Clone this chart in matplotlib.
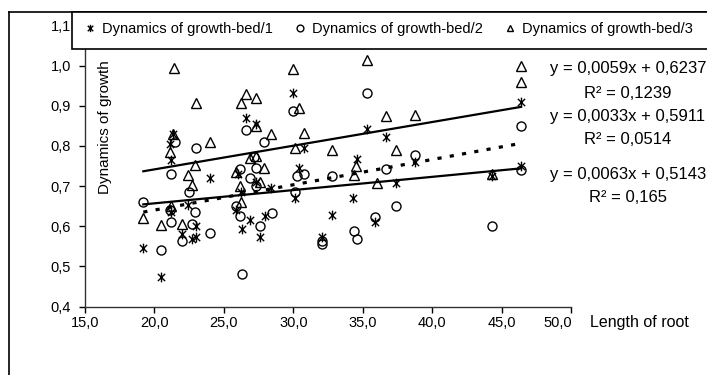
import matplotlib
matplotlib.use("Agg")
import matplotlib.pyplot as plt
import numpy as np
from matplotlib.path import Path
from matplotlib.lines import Line2D
from matplotlib.patches import Rectangle
import matplotlib.transforms as mtransforms

plt.rcParams['font.family'] = ['Liberation Sans', 'DejaVu Sans']

# ---- data ----
bed1_x = [19.2, 20.5, 21.35, 21.1, 21.2, 21.2, 22.4, 23.0, 22.0, 22.7, 23.0, 24.0,
          26.6, 27.3, 26.0, 26.2, 27.35, 28.4, 25.9, 26.9, 26.3, 27.6, 27.95,
          30.0, 30.8, 30.4, 30.1, 32.8, 32.1, 34.6, 34.3, 35.3, 36.7, 35.9, 37.4,
          38.8, 44.3, 46.4, 46.4]
bed1_y = [0.547, 0.474, 0.83, 0.805, 0.765, 0.636, 0.653, 0.60, 0.58, 0.568, 0.574, 0.72,
          0.87, 0.855, 0.73, 0.685, 0.71, 0.695, 0.64, 0.616, 0.593, 0.574, 0.626,
          0.933, 0.795, 0.745, 0.67, 0.628, 0.573, 0.767, 0.671, 0.842, 0.823, 0.611, 0.707,
          0.76, 0.725, 0.91, 0.75]

bed2_x = [19.2, 20.5, 21.5, 21.2, 21.1, 21.2, 22.5, 22.9, 22.7, 22.0, 23.0, 24.0,
          26.6, 27.9, 26.15, 26.9, 27.2, 27.35, 27.35, 25.9, 26.15, 27.6, 28.5, 26.3,
          30.0, 30.3, 30.8, 30.1, 32.8, 32.1, 32.1, 34.35, 34.6, 35.3, 35.9, 36.7,
          37.4, 38.8, 44.3, 46.4, 46.4]
bed2_y = [0.66, 0.541, 0.81, 0.73, 0.64, 0.61, 0.686, 0.635, 0.605, 0.563, 0.795, 0.583,
          0.84, 0.81, 0.742, 0.72, 0.772, 0.745, 0.70, 0.65, 0.626, 0.60, 0.632, 0.48,
          0.888, 0.725, 0.73, 0.686, 0.724, 0.563, 0.556, 0.588, 0.568, 0.932, 0.624, 0.742,
          0.651, 0.778, 0.60, 0.85, 0.74]

bed3_x = [19.2, 20.5, 21.4, 21.35, 21.1, 21.2, 22.4, 22.7, 22.9, 22.0, 23.0, 24.0,
          26.6, 26.2, 27.3, 27.3, 28.4, 25.9, 26.9, 27.3, 27.9, 27.6, 26.15, 26.2,
          30.0, 30.4, 30.8, 30.1, 32.8, 35.3, 36.7, 38.8, 37.4, 34.5, 34.4, 36.0,
          44.3, 46.4, 46.4]
bed3_y = [0.62, 0.603, 0.994, 0.83, 0.786, 0.65, 0.728, 0.703, 0.753, 0.605, 0.907, 0.811,
          0.929, 0.907, 0.92, 0.85, 0.83, 0.735, 0.77, 0.775, 0.746, 0.71, 0.70, 0.66,
          0.991, 0.894, 0.832, 0.795, 0.789, 1.015, 0.875, 0.878, 0.789, 0.75, 0.728, 0.707,
          0.73, 1.0, 0.96]

series_labels = ["Dynamics of growth-bed/1", "Dynamics of growth-bed/2", "Dynamics of growth-bed/3"]

# trend line equations (as printed on the chart) for bed/3, bed/2, bed/1
eq_slopes = [0.0059, 0.0033, 0.0063]
eq_intercepts = [0.6237, 0.5911, 0.5143]
eq_r2 = ["0,1239", "0,0514", "0,165"]

x_ticks = [15, 20, 25, 30, 35, 40, 45, 50]
y_ticks = [0.4, 0.5, 0.6, 0.7, 0.8, 0.9, 1.0, 1.1]

W, H = 707, 375
fig = plt.figure(figsize=(W / 100, H / 100), dpi=100)
ax = fig.add_axes([85 / W, (H - 306.5) / H, (571 - 85) / W, (306.5 - 25.6) / H])

# star marker: vertical bar + X
star = Path([(0, -1), (0, 1), (-0.75, -0.75), (0.75, 0.75), (-0.75, 0.75), (0.75, -0.75)],
            [Path.MOVETO, Path.LINETO, Path.MOVETO, Path.LINETO, Path.MOVETO, Path.LINETO])

h1, = ax.plot(bed1_x, bed1_y, linestyle='none', marker=star, markersize=7,
              markeredgecolor='black', markerfacecolor='none', markeredgewidth=1.0, label=series_labels[0])
h2, = ax.plot(bed2_x, bed2_y, linestyle='none', marker='o', markersize=6.5,
              markeredgecolor='black', markerfacecolor='none', markeredgewidth=1.0, label=series_labels[1])
h3, = ax.plot(bed3_x, bed3_y, linestyle='none', marker='^', markersize=6.5,
              markeredgecolor='black', markerfacecolor='none', markeredgewidth=1.0, label=series_labels[2])

# trend lines
series_x = [bed3_x, bed2_x, bed1_x]
styles = [dict(linestyle='-', linewidth=1.6), dict(linestyle='-', linewidth=1.6),
          dict(linestyle=(0, (1.3, 2.6)), linewidth=2.3)]
for xs, m, b, st in zip(series_x, eq_slopes, eq_intercepts, styles):
    xx = np.array([min(xs), max(xs)])
    ax.plot(xx, m * xx + b, color='black', **st)

ax.set_xlim(15, 50)
ax.set_ylim(0.4, 1.1)
ax.set_xticks(x_ticks)
ax.set_yticks(y_ticks)
ax.set_xticklabels([f"{v:.1f}".replace('.', ',') for v in x_ticks], fontsize=10.5)
ax.set_yticklabels([f"{v:.1f}".replace('.', ',') for v in y_ticks], fontsize=10.5)
ax.tick_params(direction='out', length=4, width=1, color='black', pad=3)
ax.tick_params(axis='y', pad=6)
for s in ['top', 'right']:
    ax.spines[s].set_visible(False)
for s in ['left', 'bottom']:
    ax.spines[s].set_linewidth(1.0)
    ax.spines[s].set_color('#333333')

# shift last x tick label like the original
lbls = ax.get_xticklabels()
lbls[-1].set_transform(lbls[-1].get_transform() + mtransforms.ScaledTranslation(-0.13, 0, fig.dpi_scale_trans))

ax.text(105 / W, (H - 127) / H, "Dynamics of growth", rotation=90, transform=fig.transFigure,
        ha='center', va='center', fontsize=11)
fig.text(590 / W, (H - 322) / H, "Length of root", ha='left', va='center', fontsize=11.5)

# outer frame (left and top edges visible)
fig.add_artist(Line2D([9 / W, 9 / W], [0, (H - 12) / H], color='black', linewidth=1.2, transform=fig.transFigure))
fig.add_artist(Line2D([9 / W, 1], [(H - 12) / H, (H - 12) / H], color='black', linewidth=1.2, transform=fig.transFigure))

# legend box
box = Rectangle((72 / W, (H - 49) / H), 1 - 72 / W + 0.01, 37 / H, transform=fig.transFigure,
                facecolor='white', edgecolor='black', linewidth=1.2, zorder=5)
fig.add_artist(box)
leg = fig.legend(handles=[h1, h2, h3], loc='center left', bbox_to_anchor=(84 / W, (H - 29) / H),
                 ncol=3, frameon=False, fontsize=10.5, handlelength=0.8, handletextpad=0.4,
                 columnspacing=1.5, borderpad=0, borderaxespad=0, markerscale=0.75)
leg.set_zorder(10)

# equations
eq_y = [(68, 93), (116, 140), (175, 198)]
for m, b, r2, (ya, yb) in zip(eq_slopes, eq_intercepts, eq_r2, eq_y):
    s = f"y = {m:.4f}x + {b:.4f}".replace('.', ',')
    fig.text(628 / W, (H - ya) / H, s, ha='center', va='center', fontsize=12)
    fig.text(628 / W, (H - yb) / H, f"R² = {r2}", ha='center', va='center', fontsize=12)

fig.savefig("out.png", dpi=100)
